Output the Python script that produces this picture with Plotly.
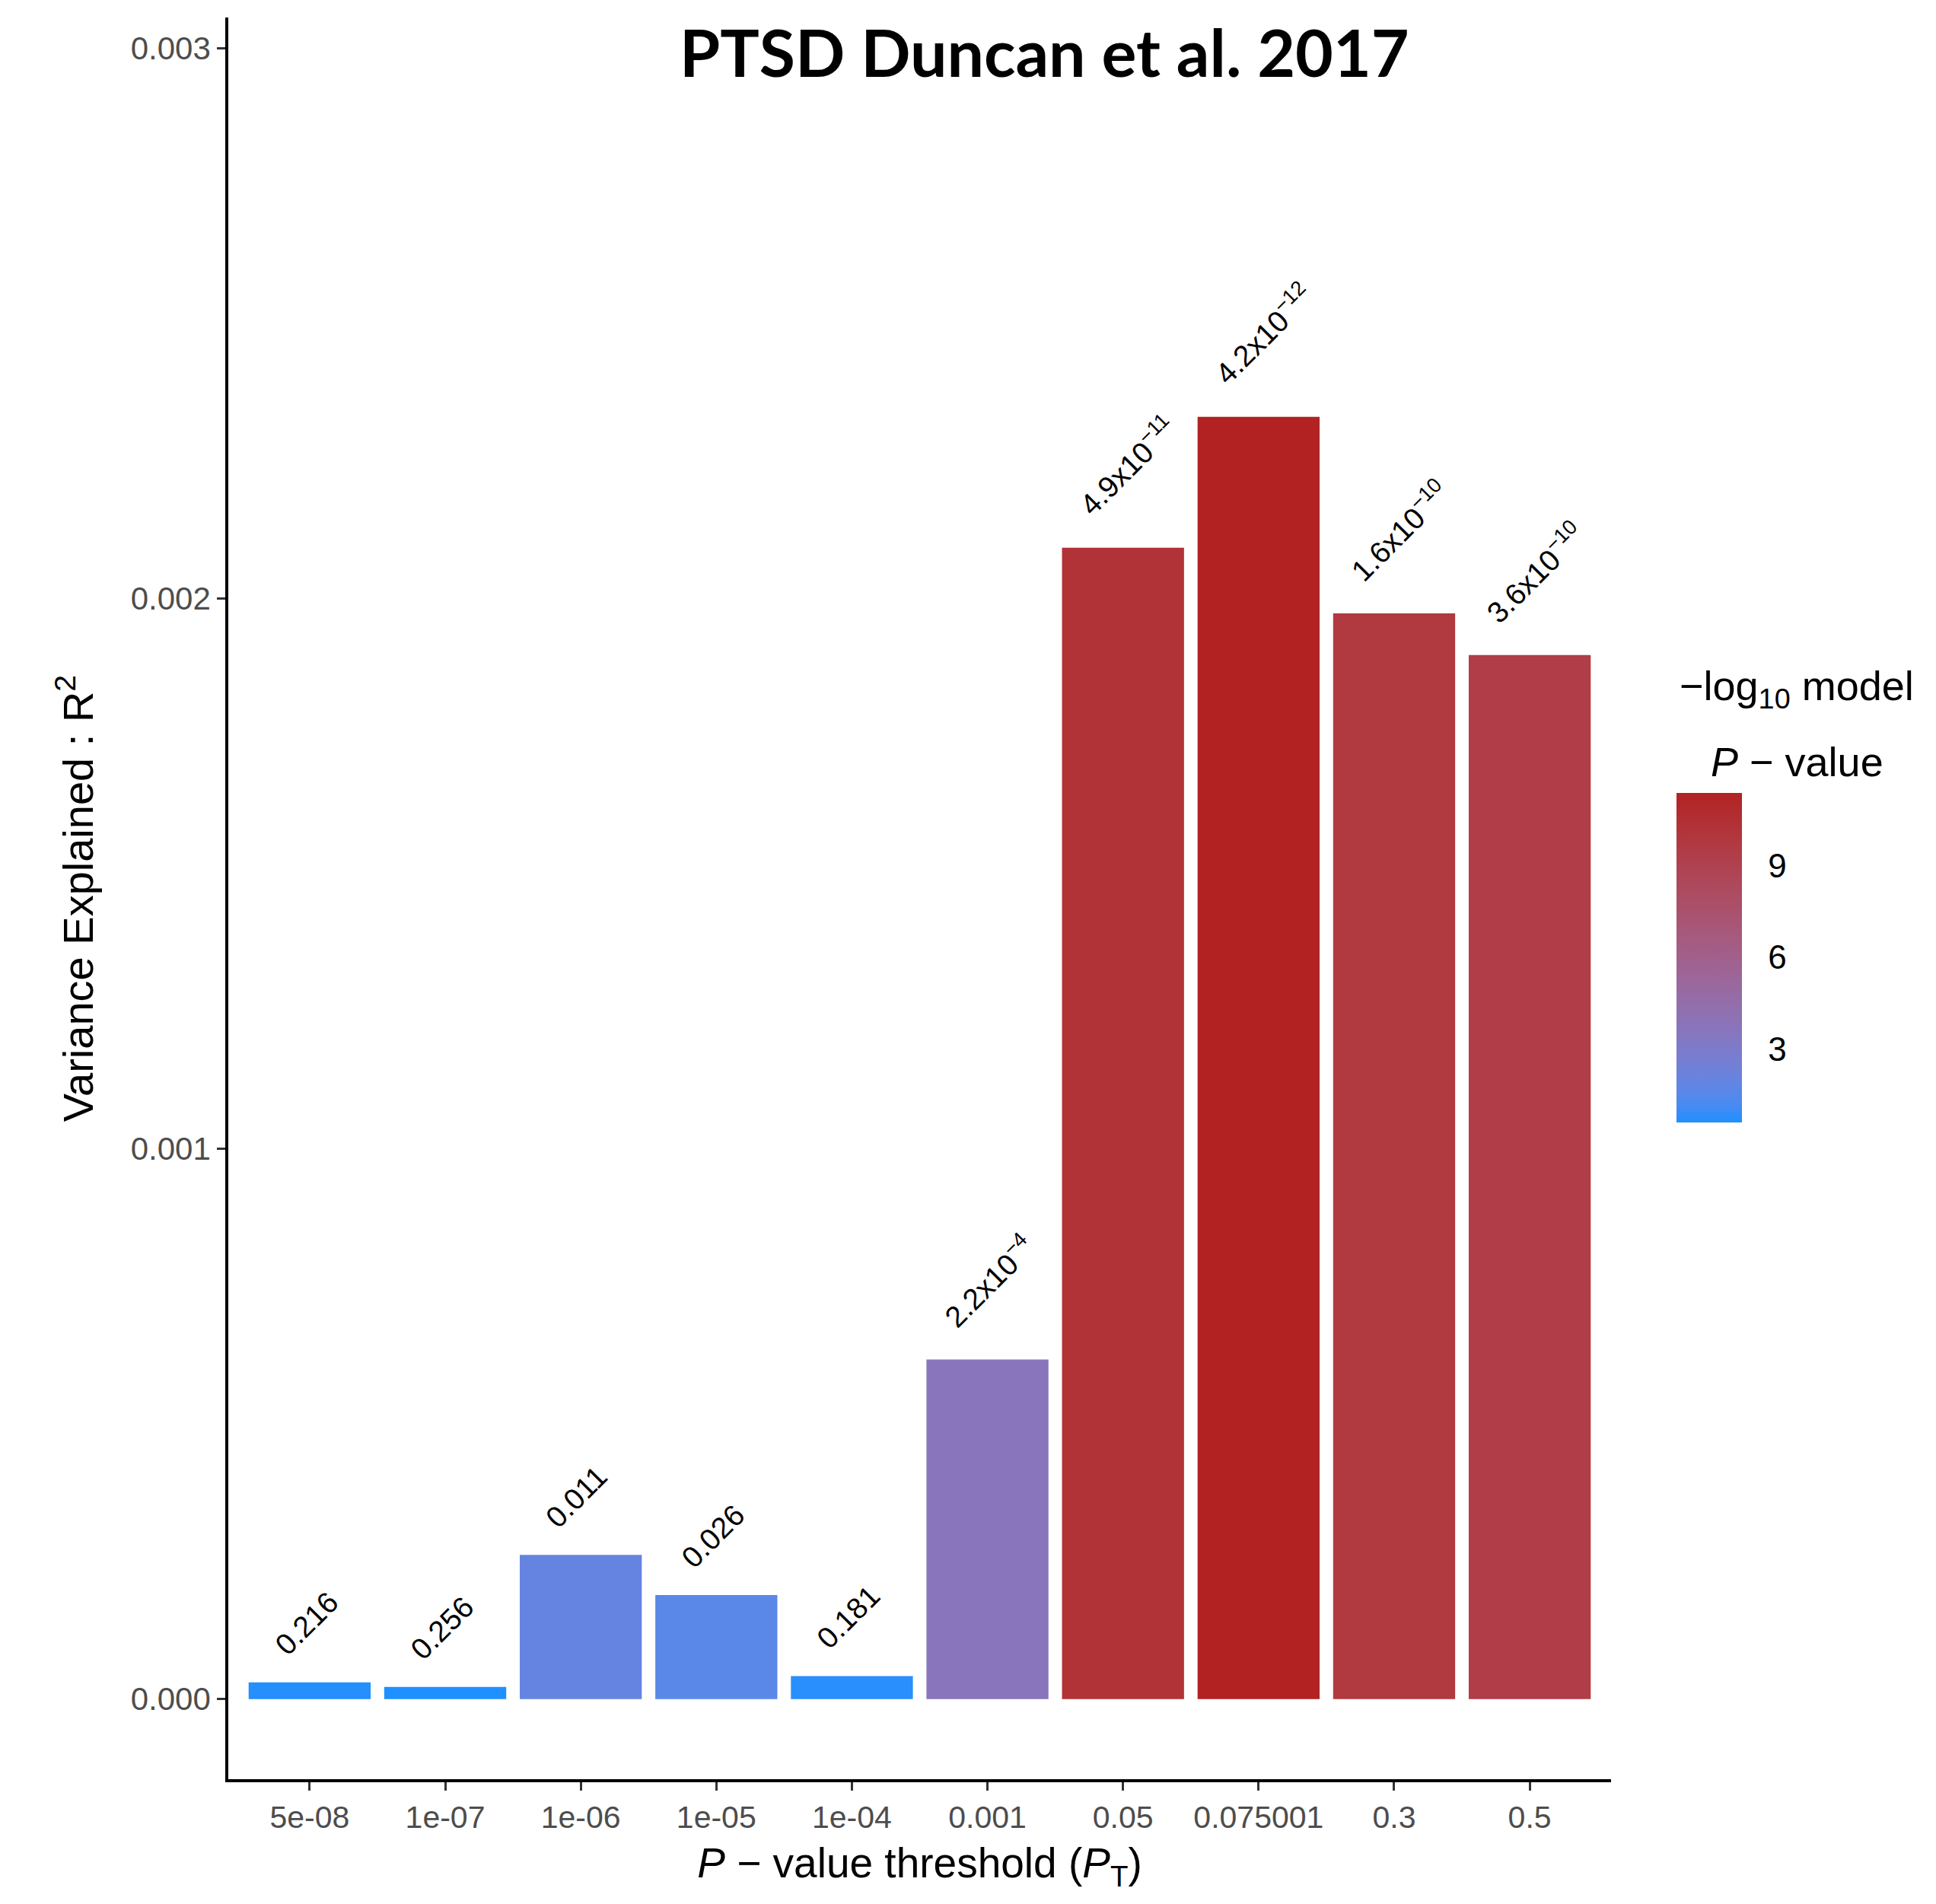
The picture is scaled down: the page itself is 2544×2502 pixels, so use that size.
import math
import plotly.graph_objects as go

# P-value thresholds used for the polygenic score
thresholds = ["5e-08", "1e-07", "1e-06", "1e-05", "1e-04",
              "0.001", "0.05", "0.075001", "0.3", "0.5"]
# Variance explained (R^2) at each threshold
r2 = [0.0000304, 0.0000221, 0.000262, 0.000189, 0.0000419,
      0.000617, 0.002092, 0.002330, 0.001973, 0.001897]
# Model P-values (numeric) and the text printed above each bar
model_p = [0.216, 0.256, 0.011, 0.026, 0.181,
           2.2e-4, 4.9e-11, 4.2e-12, 1.6e-10, 3.6e-10]
p_labels = ["0.216", "0.256", "0.011", "0.026", "0.181",
            "2.2x10<sup>−4</sup>", "4.9x10<sup>−11</sup>", "4.2x10<sup>−12</sup>",
            "1.6x10<sup>−10</sup>", "3.6x10<sup>−10</sup>"]
y_ticks = [0.000, 0.001, 0.002, 0.003]
cbar_ticks = [3, 6, 9]

neglog = [-math.log10(p) for p in model_p]

# ---- gradient from dodgerblue to firebrick, interpolated in CIELAB ----
WHITE = (0.95047, 1.0, 1.08883)


def _lin(c):
    c = c / 255.0
    return c / 12.92 if c <= 0.04045 else ((c + 0.055) / 1.055) ** 2.4


def _gam(c):
    c = 12.92 * c if c <= 0.0031308 else 1.055 * c ** (1 / 2.4) - 0.055
    return max(0, min(255, round(c * 255)))


def rgb_to_lab(rgb):
    r, g, b = (_lin(v) for v in rgb)
    x = 0.4124564 * r + 0.3575761 * g + 0.1804375 * b
    y = 0.2126729 * r + 0.7151522 * g + 0.0721750 * b
    z = 0.0193339 * r + 0.1191920 * g + 0.9503041 * b

    def f(t):
        return t ** (1 / 3) if t > 0.008856 else 7.787 * t + 16 / 116

    fx, fy, fz = f(x / WHITE[0]), f(y / WHITE[1]), f(z / WHITE[2])
    return (116 * fy - 16, 500 * (fx - fy), 200 * (fy - fz))


def lab_to_rgb(lab):
    L, a, b = lab
    fy = (L + 16) / 116
    fx = fy + a / 500
    fz = fy - b / 200

    def finv(t):
        return t ** 3 if t ** 3 > 0.008856 else (t - 16 / 116) / 7.787

    x, y, z = finv(fx) * WHITE[0], finv(fy) * WHITE[1], finv(fz) * WHITE[2]
    r = 3.2404542 * x - 1.5371385 * y - 0.4985314 * z
    g = -0.9692660 * x + 1.8760108 * y + 0.0415560 * z
    bb = 0.0556434 * x - 0.2040259 * y + 1.0572252 * z
    return (_gam(r), _gam(g), _gam(bb))


low = rgb_to_lab((30, 144, 255))    # dodgerblue
high = rgb_to_lab((178, 34, 34))    # firebrick
n_stops = 21
colorscale = []
for i in range(n_stops):
    t = i / (n_stops - 1)
    lab = tuple(lo + (hi - lo) * t for lo, hi in zip(low, high))
    r, g, b = lab_to_rgb(lab)
    colorscale.append([t, f"rgb({r},{g},{b})"])

cmin, cmax = min(neglog), max(neglog)

# ---- page geometry (pixels) ----
W, H = 2544, 2502
ML, MR, MT, MB = 300, 427, 23, 164
PW, PH = W - ML - MR, H - MT - MB

CB_LEFT, CB_THICK = 2203, 86
CB_TOP, CB_BOTTOM = 1042, 1475
CB_LEN = CB_BOTTOM - CB_TOP
CB_TICK = 17


def px_to_paper_x(px):
    return (px - ML) / PW


def px_to_paper_y(py):
    return (H - MB - py) / PH


FONT = "Liberation Sans, Arial, Helvetica, sans-serif"

fig = go.Figure()
fig.add_trace(go.Bar(
    x=thresholds,
    y=r2,
    width=0.9,
    marker=dict(
        color=neglog,
        colorscale=colorscale,
        cmin=cmin,
        cmax=cmax,
        line=dict(width=0),
        showscale=True,
        colorbar=dict(
            x=px_to_paper_x(CB_LEFT),
            xanchor="left",
            xpad=0,
            ypad=0,
            y=px_to_paper_y((CB_TOP + CB_BOTTOM) / 2),
            yanchor="middle",
            lenmode="pixels",
            len=CB_LEN,
            thicknessmode="pixels",
            thickness=CB_THICK,
            outlinewidth=0,
            tickvals=cbar_ticks,
            ticks="outside",
            ticklen=26,
            tickcolor="rgba(0,0,0,0)",
            tickfont=dict(family=FONT, size=44, color="black"),
        ),
    ),
    hoverinfo="skip",
))

# short white ticks on both edges of the colour bar
shapes = []
for v in cbar_ticks:
    yp = px_to_paper_y(CB_BOTTOM - (v - cmin) / (cmax - cmin) * CB_LEN)
    for x0, x1 in ((CB_LEFT, CB_LEFT + CB_TICK),
                   (CB_LEFT + CB_THICK - CB_TICK, CB_LEFT + CB_THICK)):
        shapes.append(dict(
            type="line", xref="paper", yref="paper",
            x0=px_to_paper_x(x0), x1=px_to_paper_x(x1), y0=yp, y1=yp,
            line=dict(color="rgba(255,255,255,0.85)", width=2),
        ))

annotations = []
# model P-value printed above each bar, rotated 45 degrees
for i, (val, lab) in enumerate(zip(r2, p_labels)):
    has_sup = "<sup>" in lab
    annotations.append(dict(
        x=i, y=val, xref="x", yref="y",
        text=lab, showarrow=False, textangle=-45,
        xanchor="left", yanchor="bottom",
        xshift=-72 if has_sup else -57,
        yshift=32 if has_sup else 25,
        font=dict(family=FONT, size=39, color="black"),
    ))

# colour bar title (two lines)
annotations.append(dict(
    x=px_to_paper_x(2361), y=px_to_paper_y(905), xref="paper", yref="paper",
    text="−log<sub>10</sub> model", showarrow=False,
    xanchor="center", yanchor="middle",
    font=dict(family=FONT, size=54, color="black"),
))
annotations.append(dict(
    x=px_to_paper_x(2361), y=px_to_paper_y(1001), xref="paper", yref="paper",
    text="<i>P</i> − value", showarrow=False,
    xanchor="center", yanchor="middle",
    font=dict(family=FONT, size=54, color="black"),
))

# chart title
annotations.append(dict(
    x=px_to_paper_x(1372), y=px_to_paper_y(67), xref="paper", yref="paper",
    text="<b>PTSD Duncan et al. 2017</b>", showarrow=False,
    xanchor="center", yanchor="middle",
    font=dict(family="Lato, Open Sans, sans-serif", size=86, color="black"),
))

fig.update_layout(
    width=W, height=H,
    margin=dict(l=ML, r=MR, t=MT, b=MB, pad=0),
    paper_bgcolor="white",
    plot_bgcolor="white",
    showlegend=False,
    bargap=0.1,
    shapes=shapes,
    annotations=annotations,
    xaxis=dict(
        type="category",
        range=[-0.6, len(thresholds) - 0.4],
        showline=True, linecolor="black", linewidth=3.5,
        ticks="outside", ticklen=11, tickwidth=3, tickcolor="#333333",
        tickfont=dict(family=FONT, size=41, color="#4D4D4D"),
        showgrid=False, zeroline=False,
        title=dict(
            text="<i>P</i> − value threshold (<i>P</i><sub>T</sub>)",
            font=dict(family=FONT, size=55, color="black"),
            standoff=20,
        ),
    ),
    yaxis=dict(
        range=[-0.0001455, 0.0030555],
        tickvals=y_ticks,
        tickformat=".3f",
        showline=True, linecolor="black", linewidth=3.5,
        ticks="outside", ticklen=11, tickwidth=3, tickcolor="#333333",
        tickfont=dict(family=FONT, size=42, color="#4D4D4D"),
        showgrid=False, zeroline=False,
        title=dict(
            text="Variance Explained : R<sup>2</sup>",
            font=dict(family=FONT, size=56, color="black"),
            standoff=32,
        ),
    ),
)

fig.write_html("out.html")
